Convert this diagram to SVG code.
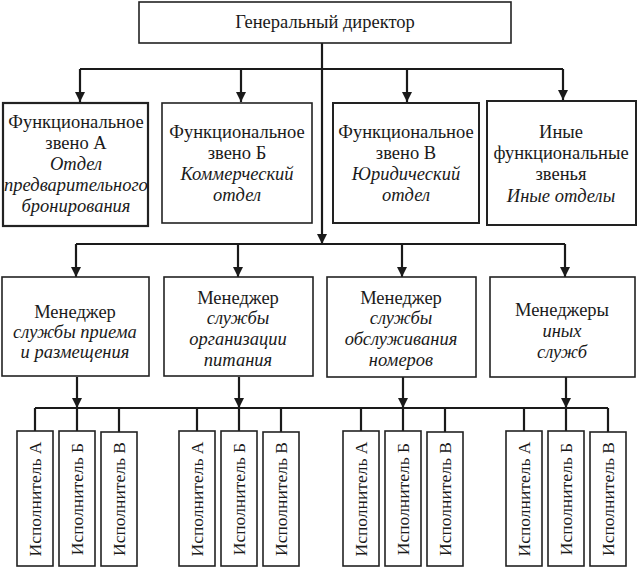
<svg xmlns="http://www.w3.org/2000/svg" width="641" height="568" viewBox="0 0 641 568">
<style>
.box{fill:#fff;stroke:#222;stroke-width:1.6}
.t{font-family:'Liberation Serif','DejaVu Serif',serif;font-size:18.5px;fill:#1a1a1a;text-anchor:middle}
.i{font-style:italic}
.c{fill:none;stroke:#1a1a1a;stroke-width:2.2}
.ex{font-family:'Liberation Serif','DejaVu Serif',serif;font-size:17.5px;fill:#1a1a1a;text-anchor:middle;dominant-baseline:central}
</style>
<defs>
<marker id="ar" markerUnits="userSpaceOnUse" markerWidth="10" markerHeight="10" refX="10" refY="5" orient="auto" viewBox="0 0 10 10">
<path d="M0,0 L10,5 L0,10 z" fill="#1a1a1a"/>
</marker>
</defs>
<g id="connectors">
<path class="c" d="M322,43 V244" marker-end="url(#ar)"/>
<path class="c" d="M80,69 H563"/>
<path class="c" d="M80,69 V102" marker-end="url(#ar)"/>
<path class="c" d="M241,69 V102" marker-end="url(#ar)"/>
<path class="c" d="M407,69 V102" marker-end="url(#ar)"/>
<path class="c" d="M563,69 V100" marker-end="url(#ar)"/>
<path class="c" d="M76,244 H565"/>
<path class="c" d="M76,244 V277" marker-end="url(#ar)"/>
<path class="c" d="M238,244 V277" marker-end="url(#ar)"/>
<path class="c" d="M402,244 V277" marker-end="url(#ar)"/>
<path class="c" d="M565,244 V277" marker-end="url(#ar)"/>
<path class="c" d="M77,377 V408" marker-end="url(#ar)"/>
<path class="c" d="M239,377 V408" marker-end="url(#ar)"/>
<path class="c" d="M403,377 V408" marker-end="url(#ar)"/>
<path class="c" d="M566,377 V408" marker-end="url(#ar)"/>
<path class="c" d="M35,408 H608"/>
<path class="c" d="M35,408 V431 M77,408 V431 M119,408 V432 M197,408 V431 M239,408 V431 M281,408 V432 M361,408 V431 M403,408 V431 M445,408 V432 M524,408 V431 M566,408 V431 M608,408 V432"/>
</g>
<g id="gen-director">
<rect class="box" x="139" y="2" width="372" height="41"/>
<text class="t" x="325" y="28">Генеральный директор</text>
</g>
<g id="func-a">
<rect class="box" x="3" y="103" width="145" height="123" style="stroke-width:2.2"/>
<text class="t" x="76" y="128">Функциональное</text>
<text class="t" x="76" y="149">звено А</text>
<text class="t i" x="76" y="170">Отдел</text>
<text class="t i" x="76" y="191">предварительного</text>
<text class="t i" x="76" y="212">бронирования</text>
</g>
<g id="func-b">
<rect class="box" x="162" y="103" width="150" height="120"/>
<text class="t" x="237" y="138">Функциональное</text>
<text class="t" x="237" y="159">звено Б</text>
<text class="t i" x="237" y="180">Коммерческий</text>
<text class="t i" x="237" y="201">отдел</text>
</g>
<g id="func-v">
<rect class="box" x="333" y="103" width="146" height="120" style="stroke-width:2"/>
<text class="t" x="406" y="138">Функциональное</text>
<text class="t" x="406" y="159">звено В</text>
<text class="t i" x="406" y="180">Юридический</text>
<text class="t i" x="406" y="201">отдел</text>
</g>
<g id="func-other">
<rect class="box" x="487" y="101" width="149" height="124" style="stroke-width:2"/>
<text class="t" x="561" y="138">Иные</text>
<text class="t" x="561" y="159">функциональные</text>
<text class="t" x="561" y="180">звенья</text>
<text class="t i" x="561" y="202">Иные отделы</text>
</g>
<g id="mgr-1">
<rect class="box" x="2" y="277" width="147" height="99"/>
<text class="t" x="75" y="318">Менеджер</text>
<text class="t i" x="75" y="338">службы приема</text>
<text class="t i" x="75" y="358">и размещения</text>
</g>
<g id="mgr-2">
<rect class="box" x="164" y="277" width="149" height="99"/>
<text class="t" x="238" y="304">Менеджер</text>
<text class="t i" x="238" y="324">службы</text>
<text class="t i" x="238" y="345">организации</text>
<text class="t i" x="238" y="366">питания</text>
</g>
<g id="mgr-3">
<rect class="box" x="327" y="277" width="149" height="100"/>
<text class="t" x="401" y="304">Менеджер</text>
<text class="t i" x="401" y="324">службы</text>
<text class="t i" x="401" y="345">обслуживания</text>
<text class="t i" x="401" y="366">номеров</text>
</g>
<g id="mgr-4">
<rect class="box" x="490" y="277" width="145" height="100"/>
<text class="t" x="562" y="316">Менеджеры</text>
<text class="t i" x="562" y="337">иных</text>
<text class="t i" x="562" y="358">служб</text>
</g>
<g id="exec-1a"><rect class="box" x="17" y="431" width="36" height="135"/><text class="ex" transform="translate(35,499) rotate(-90)">Исполнитель А</text></g>
<g id="exec-1b"><rect class="box" x="59" y="431" width="36" height="135"/><text class="ex" transform="translate(77,499) rotate(-90)">Исполнитель Б</text></g>
<g id="exec-1v"><rect class="box" x="101" y="432" width="36" height="134"/><text class="ex" transform="translate(119,499) rotate(-90)">Исполнитель В</text></g>
<g id="exec-2a"><rect class="box" x="179" y="431" width="36" height="135"/><text class="ex" transform="translate(197,499) rotate(-90)">Исполнитель А</text></g>
<g id="exec-2b"><rect class="box" x="221" y="431" width="36" height="135"/><text class="ex" transform="translate(239,499) rotate(-90)">Исполнитель Б</text></g>
<g id="exec-2v"><rect class="box" x="263" y="432" width="36" height="134"/><text class="ex" transform="translate(281,499) rotate(-90)">Исполнитель В</text></g>
<g id="exec-3a"><rect class="box" x="343" y="431" width="36" height="135"/><text class="ex" transform="translate(361,499) rotate(-90)">Исполнитель А</text></g>
<g id="exec-3b"><rect class="box" x="385" y="431" width="36" height="135"/><text class="ex" transform="translate(403,499) rotate(-90)">Исполнитель Б</text></g>
<g id="exec-3v"><rect class="box" x="427" y="432" width="36" height="134"/><text class="ex" transform="translate(445,499) rotate(-90)">Исполнитель В</text></g>
<g id="exec-4a"><rect class="box" x="506" y="431" width="36" height="135"/><text class="ex" transform="translate(524,499) rotate(-90)">Исполнитель А</text></g>
<g id="exec-4b"><rect class="box" x="548" y="431" width="36" height="135"/><text class="ex" transform="translate(566,499) rotate(-90)">Исполнитель Б</text></g>
<g id="exec-4v"><rect class="box" x="590" y="432" width="36" height="134"/><text class="ex" transform="translate(608,499) rotate(-90)">Исполнитель В</text></g>
</svg>
